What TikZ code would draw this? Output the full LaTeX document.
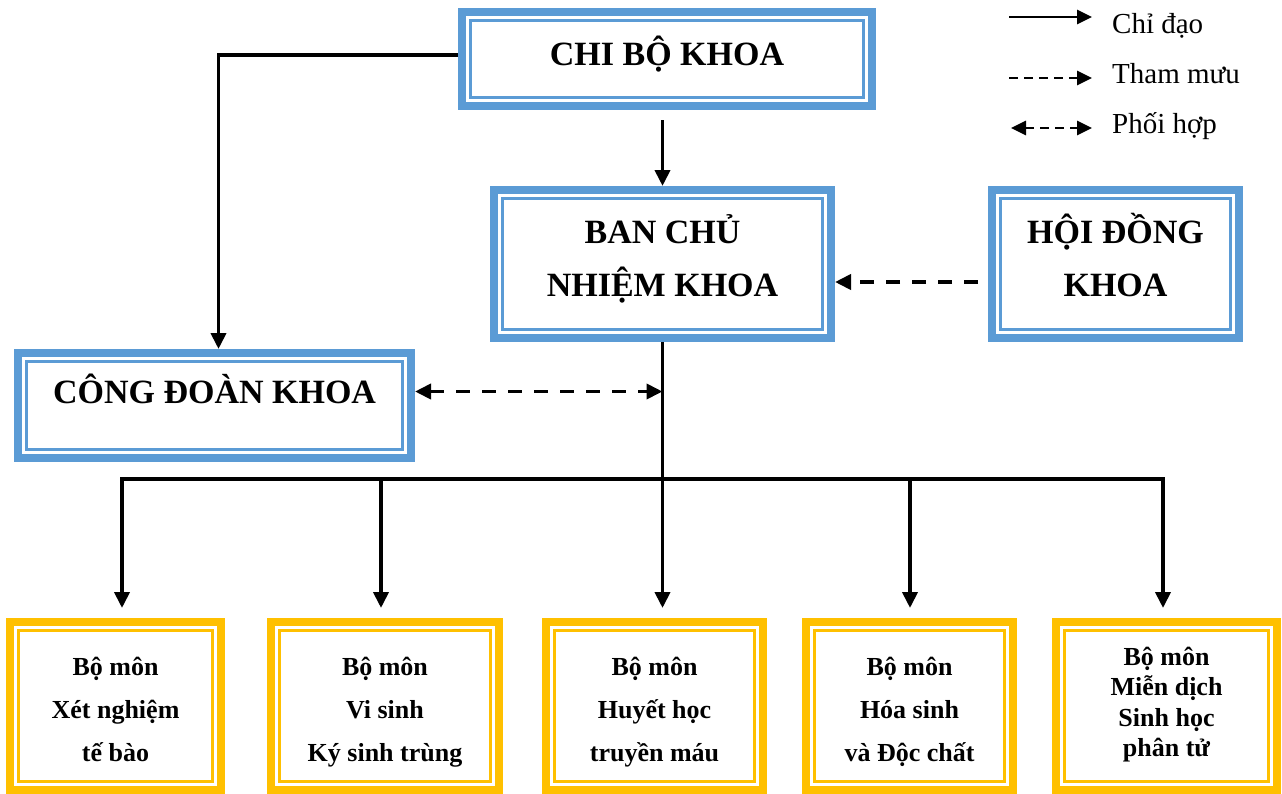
\documentclass[tikz,border=0pt]{standalone}
\usepackage{fontspec}
\setmainfont{Liberation Serif}
\usetikzlibrary{arrows.meta,calc}
\definecolor{cblue}{HTML}{5B9BD5}
\definecolor{cgold}{HTML}{FFC000}
\newcommand{\mylines}[1]{\begin{tabular}[t]{@{}c@{}}#1\end{tabular}}
\tikzset{
  boxframe/.style={draw=#1, line width=8pt, fill=white, inner sep=0pt, outer sep=4pt,
    path picture={\draw[#1, line width=2.5pt]
      ([shift={(8.3,8.3)}]path picture bounding box.north west) rectangle
      ([shift={(-8.3,-8.3)}]path picture bounding box.south east);}},
  goldbox/.style={boxframe=cgold, minimum height=168pt},
  bigtext/.style={font=\bfseries\fontsize{34}{53}\selectfont, anchor=base, inner sep=0pt},
  smalltext/.style={font=\bfseries\fontsize{26}{43}\selectfont, anchor=base, inner sep=0pt},
  tighttext/.style={font=\bfseries\fontsize{26}{30.5}\selectfont, anchor=base, inner sep=0pt},
  legtext/.style={font=\fontsize{29}{35}\selectfont, anchor=base west, inner sep=0pt},
  conn/.style={line width=3.8pt},
  arr/.style={-{Triangle[length=16pt,width=15pt]}},
  darr/.style={{Triangle[length=16pt,width=15pt]}-{Triangle[length=16pt,width=15pt]}},
  bigdash/.style={dash pattern=on 14pt off 12pt},
  legline/.style={line width=2.8pt},
  legarr/.style={-{Triangle[length=15pt,width=14pt]}},
  legdarr/.style={{Triangle[length=15pt,width=14pt]}-{Triangle[length=15pt,width=14pt]}},
  legdash/.style={dash pattern=on 9pt off 6pt},
}
\begin{document}
\begin{tikzpicture}[x=1pt,y=-1pt]
\useasboundingbox (0,0) rectangle (1282,793);

% upper boxes
\node[boxframe=cblue, minimum width=410pt, minimum height=94pt] (chibo) at (667,59) {};
\node[bigtext] (chibotxt) at (667,65) {CHI BỘ KHOA};
\node[boxframe=cblue, minimum width=337pt, minimum height=148pt] (ban) at (662.5,264) {};
\node[bigtext] (bantxt) at (662.5,243) {\mylines{BAN CHỦ\\NHIỆM KHOA}};
\node[boxframe=cblue, minimum width=247pt, minimum height=148pt] (hoidong) at (1115.5,264) {};
\node[bigtext] (hdtxt) at (1115.5,243) {\mylines{HỘI ĐỒNG\\KHOA}};
\node[boxframe=cblue, minimum width=393pt, minimum height=105pt] (congdoan) at (214.5,405.5) {};
\node[bigtext] (cdtxt) at (214.5,403) {CÔNG ĐOÀN KHOA};

% bottom boxes
\node[goldbox, minimum width=211pt] (b1) at (115.5,706) {};
\node[smalltext] (b1txt) at (115.5,675) {\mylines{Bộ môn\\Xét nghiệm\\tế bào}};
\node[goldbox, minimum width=228pt] (b2) at (385,706) {};
\node[smalltext] (b2txt) at (385,675) {\mylines{Bộ môn\\Vi sinh\\Ký sinh trùng}};
\node[goldbox, minimum width=217pt] (b3) at (654.5,706) {};
\node[smalltext] (b3txt) at (654.5,675) {\mylines{Bộ môn\\Huyết học\\truyền máu}};
\node[goldbox, minimum width=207pt] (b4) at (909.5,706) {};
\node[smalltext] (b4txt) at (909.5,675) {\mylines{Bộ môn\\Hóa sinh\\và Độc chất}};
\node[goldbox, minimum width=221pt] (b5) at (1166.5,706) {};
\node[tighttext] (b5txt) at (1166.5,665) {\mylines{Bộ môn\\Miễn dịch\\Sinh học\\phân tử}};

% connectors
\draw[conn,arr] ([shift={(0,-4)}]chibo.west) -| ([shift={(4,0)}]congdoan.north);
\draw[conn,arr,shorten <=10pt] (ban.north |- chibo.south) -- (ban.north);
\draw[conn,arr,bigdash,shorten <=10pt] ([shift={(0,18)}]hoidong.west) -- ([shift={(0,18)}]ban.east);
\draw[conn,arr,shorten >=10pt] (ban.south) -- (ban.south |- b3.north);
\draw[conn,darr,bigdash] ($(congdoan.east)+(0,-14)$) -- ($(congdoan.east -| ban.south)+(0,-14)$);

\coordinate (busL) at (122,479);
\coordinate (bus2) at (381,479);
\coordinate (bus4) at (910,479);
\coordinate (busR) at (1163,479);
\draw[conn,line cap=rect] (busL) -- (busR);
\draw[conn,arr,shorten >=10pt] (busL) -- (busL |- b1.north);
\draw[conn,arr,shorten >=10pt] (bus2) -- (bus2 |- b2.north);
\draw[conn,arr,shorten >=10pt] (bus4) -- (bus4 |- b4.north);
\draw[conn,arr,shorten >=10pt] (busR) -- (busR |- b5.north);

% legend
\coordinate (l1a) at (1009,17);
\coordinate (l1b) at (1092,17);
\coordinate (l2a) at (1009,78);
\coordinate (l2b) at (1092,78);
\coordinate (l3a) at (1011,128);
\coordinate (l3b) at (1092,128);
\draw[legline,legarr] (l1a) -- (l1b);
\draw[legline,legarr,legdash] (l2a) -- (l2b);
\draw[legline,legdarr,legdash] (l3a) -- (l3b);
\node[legtext] (leg1) at (1112,33) {Chỉ đạo};
\node[legtext] (leg2) at (1112,83) {Tham mưu};
\node[legtext] (leg3) at (1112,133) {Phối hợp};
\end{tikzpicture}
\end{document}
